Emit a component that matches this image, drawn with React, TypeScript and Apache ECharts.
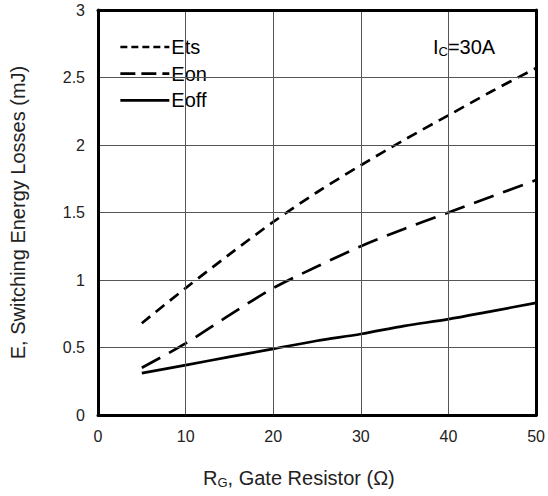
import React, { useEffect, useRef } from "react";
import * as echarts from "echarts";

const rg = [5, 10, 15, 20, 25, 30, 35, 40, 45, 50];
const ets = [0.68, 0.94, 1.19, 1.43, 1.65, 1.85, 2.04, 2.22, 2.4, 2.57];
const eon = [0.35, 0.53, 0.74, 0.94, 1.1, 1.25, 1.38, 1.5, 1.62, 1.74];
const eoff = [0.31, 0.37, 0.43, 0.49, 0.55, 0.6, 0.66, 0.71, 0.77, 0.83];
const seriesNames = ["Ets", "Eon", "Eoff"];

const FONT = "Liberation Sans, Arial, sans-serif";

export default function App() {
  const ref = useRef<HTMLDivElement>(null);
  useEffect(() => {
    document.body.style.margin = "0";
    document.body.style.overflow = "hidden";
    const chart = echarts.init(ref.current!, null, { renderer: "svg" });
    const mk = (name: string, vals: number[], dash: any) => ({
      name,
      type: "line",
      xAxisIndex: 0,
      yAxisIndex: 0,
      data: rg.map((x, i) => [x, vals[i]]),
      symbol: "none",
      smooth: 0.3,
      lineStyle: { color: "#000", width: 2.7, type: dash },
      itemStyle: { color: "#000" },
    });
    const frame = { show: true, onZero: false, lineStyle: { color: "#000", width: 3 } };
    const legendDash: any[] = [[7, 4], [15, 6], "solid"];
    chart.setOption({
      animation: false,
      backgroundColor: "#fff",
      grid: { left: 97, right: 10, top: 10, bottom: 81 },
      xAxis: [
        {
          type: "value",
          min: 0,
          max: 50,
          interval: 10,
          position: "bottom",
          axisLine: frame,
          axisTick: { show: false },
          axisLabel: { color: "#222", fontSize: 16, fontFamily: FONT, margin: 13 },
          splitLine: { show: true, lineStyle: { color: "#555", width: 1 } },
          z: 5,
        },
        {
          type: "value",
          min: 0,
          max: 50,
          interval: 10,
          position: "top",
          axisLine: frame,
          axisTick: { show: false },
          axisLabel: { show: false },
          splitLine: { show: false },
          z: 5,
        },
      ],
      yAxis: [
        {
          type: "value",
          min: 0,
          max: 3,
          interval: 0.5,
          position: "left",
          axisLine: frame,
          axisTick: { show: false },
          axisLabel: { color: "#222", fontSize: 16, fontFamily: FONT, margin: 13 },
          splitLine: { show: true, lineStyle: { color: "#555", width: 1 } },
          name: "E, Switching Energy Losses (mJ)",
          nameLocation: "middle",
          nameGap: 70,
          nameTextStyle: { color: "#222", fontSize: 20, fontFamily: FONT },
          z: 5,
        },
        {
          type: "value",
          min: 0,
          max: 3,
          interval: 0.5,
          position: "right",
          axisLine: frame,
          axisTick: { show: false },
          axisLabel: { show: false },
          splitLine: { show: false },
          z: 5,
        },
      ],
      legend: {
        data: seriesNames.map((n, i) => ({
          name: n,
          lineStyle: { type: legendDash[i], width: 2.7, color: "#000" },
        })),
        orient: "vertical",
        left: 112,
        top: 27,
        padding: [10, 14, 10, 7],
        itemWidth: 49,
        itemHeight: 20,
        itemGap: 6.7,
        backgroundColor: "#fff",
        itemStyle: { opacity: 0 },
        textStyle: { color: "#000", fontSize: 20, fontFamily: FONT, padding: [0, 0, 0, -3] },
      },
      graphic: [
        {
          type: "text",
          left: 433,
          top: 37,
          style: {
            text: "{a|I}{b|C}{a|=30A}",
            rich: {
              a: { fontSize: 20, fontFamily: FONT, fill: "#000" },
              b: { fontSize: 13, fontFamily: FONT, fill: "#000", padding: [9, 0, 0, 0] },
            },
          },
        },
        {
          type: "text",
          left: 203,
          top: 468,
          style: {
            text: "{a|R}{b|G}{a|, Gate Resistor (Ω)}",
            rich: {
              a: { fontSize: 20, fontFamily: FONT, fill: "#222" },
              b: { fontSize: 13, fontFamily: FONT, fill: "#222", padding: [9, 0, 0, 0] },
            },
          },
        },
      ],
      series: [
        mk("Ets", ets, [11, 7]),
        mk("Eon", eon, [21, 10]),
        mk("Eoff", eoff, "solid"),
      ],
    });
    return () => chart.dispose();
  }, []);
  return <div ref={ref} style={{ width: 548, height: 496 }} />;
}
